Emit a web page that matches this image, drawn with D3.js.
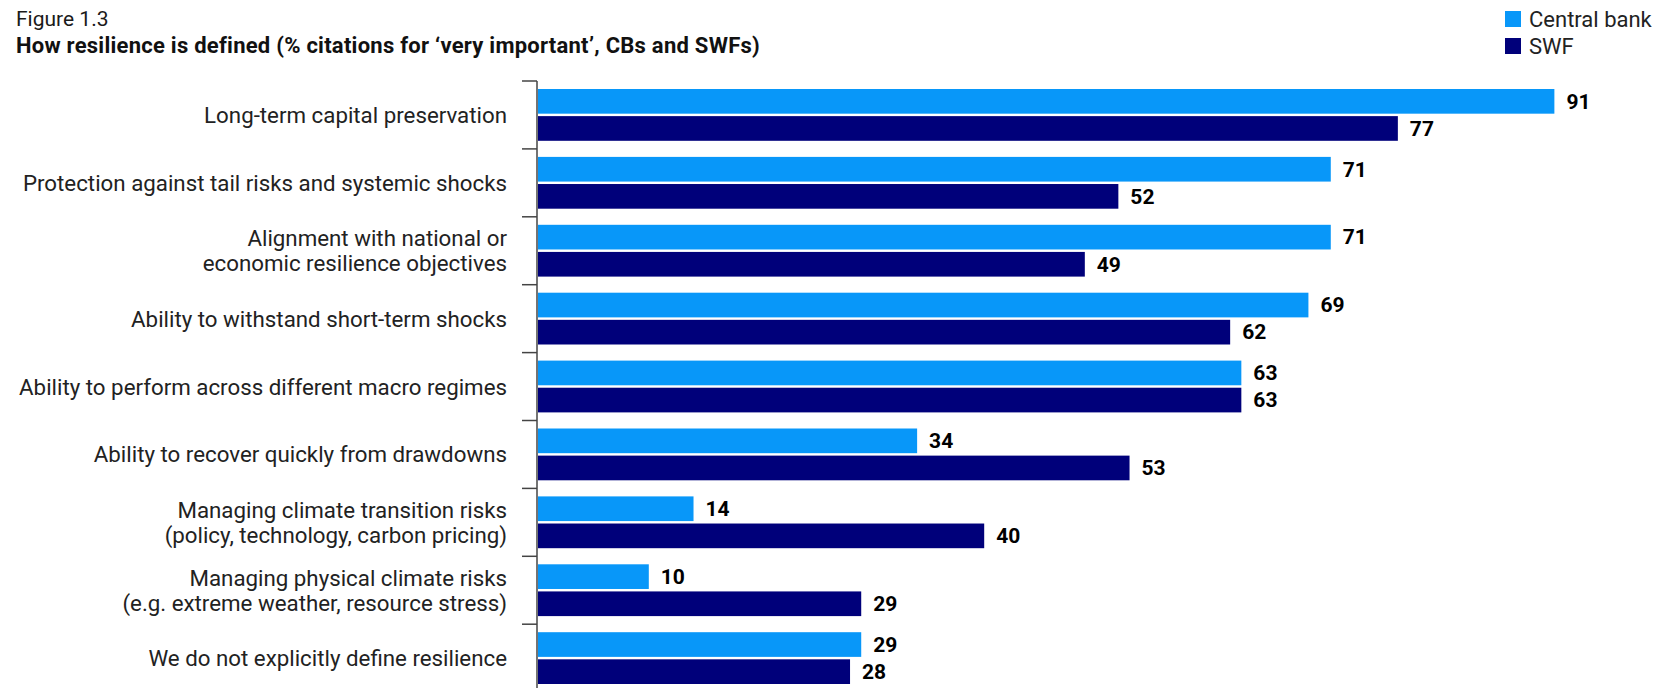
<!DOCTYPE html>
<html>
<head>
<meta charset="utf-8">
<script src="https://cdn.jsdelivr.net/npm/d3@7"></script>
<style>
  html, body { margin: 0; padding: 0; background: #ffffff; }
  svg { display: block; font-family: Roboto, "Noto Sans", sans-serif; }
</style>
</head>
<body>
<svg id="chart" width="1659" height="688"></svg>
<script>
// Survey categories (line breaks mark wrapped labels)
const categories = [
  "Long-term capital preservation",
  "Protection against tail risks and systemic shocks",
  "Alignment with national or\neconomic resilience objectives",
  "Ability to withstand short-term shocks",
  "Ability to perform across different macro regimes",
  "Ability to recover quickly from drawdowns",
  "Managing climate transition risks\n(policy, technology, carbon pricing)",
  "Managing physical climate risks\n(e.g. extreme weather, resource stress)",
  "We do not explicitly define resilience"
];
const seriesNames = ["Central bank", "SWF"];
const centralBank = [91, 71, 71, 69, 63, 34, 14, 10, 29];
const swf = [77, 52, 49, 62, 63, 53, 40, 29, 28];
const colors = ["#0897f9", "#00007a"];

const svg = d3.select("#chart");

const x = d3.scaleLinear().domain([0, 100]).range([537, 1655]);
const y = d3.scaleBand().domain(categories).range([81, 81 + 67.9 * categories.length]);
const inner = d3.scaleBand().domain(seriesNames).range([8, 59.8]).paddingInner(0.09);

const rows = categories.map((c, i) => ({ cat: c, values: [centralBank[i], swf[i]] }));

// Titles
svg.append("text").attr("x", 16).attr("y", 26)
  .attr("font-size", 21).attr("fill", "#1a1a1a").text("Figure 1.3");
svg.append("text").attr("x", 16).attr("y", 53)
  .attr("font-size", 22).attr("font-weight", 700).attr("fill", "#111")
  .attr("letter-spacing", 0.25)
  .text("How resilience is defined (% citations for \u2018very important\u2019, CBs and SWFs)");

// Legend
const legend = svg.append("g");
seriesNames.forEach((name, i) => {
  const g = legend.append("g").attr("transform", `translate(1505, ${11 + i * 27})`);
  g.append("rect").attr("width", 16).attr("height", 16).attr("fill", colors[i]);
  g.append("text").attr("x", 24).attr("y", 16).attr("font-size", 22).attr("fill", "#222").text(name);
});

// Bars and value labels
const group = svg.selectAll("g.row").data(rows).join("g")
  .attr("class", "row")
  .attr("transform", d => `translate(0, ${y(d.cat)})`);

group.selectAll("rect").data(d => d.values.map((v, j) => ({ v, s: seriesNames[j], j })))
  .join("rect")
  .attr("x", x(0) + 1)
  .attr("y", d => inner(d.s))
  .attr("width", d => x(d.v) - x(0) - 1)
  .attr("height", inner.bandwidth())
  .attr("fill", d => colors[d.j]);

group.selectAll("text.val").data(d => d.values.map((v, j) => ({ v, s: seriesNames[j] })))
  .join("text")
  .attr("class", "val")
  .attr("x", d => x(d.v) + 12)
  .attr("y", d => inner(d.s) + inner.bandwidth() / 2)
  .attr("dy", "0.35em")
  .attr("font-size", 21).attr("font-weight", 700).attr("fill", "#000")
  .text(d => d.v);

// Category labels
group.each(function(d) {
  const lines = d.cat.split("\n");
  const t = d3.select(this).append("text")
    .attr("text-anchor", "end").attr("font-size", 22.3).attr("fill", "#222");
  const mid = y.bandwidth() / 2;
  lines.forEach((line, k) => {
    t.append("tspan").attr("x", 507)
      .attr("y", mid + 8 + (k - (lines.length - 1) / 2) * 25)
      .text(line);
  });
});

// Category axis with ticks on band boundaries
const axis = svg.append("g").attr("stroke", "#444").attr("stroke-width", 1.5);
axis.append("line").attr("x1", x(0)).attr("x2", x(0))
  .attr("y1", y.range()[0]).attr("y2", y.range()[1]);
axis.selectAll("line.tick").data(categories).join("line")
  .attr("class", "tick")
  .attr("x1", x(0) - 15).attr("x2", x(0))
  .attr("y1", d => y(d)).attr("y2", d => y(d));
</script>
</body>
</html>
